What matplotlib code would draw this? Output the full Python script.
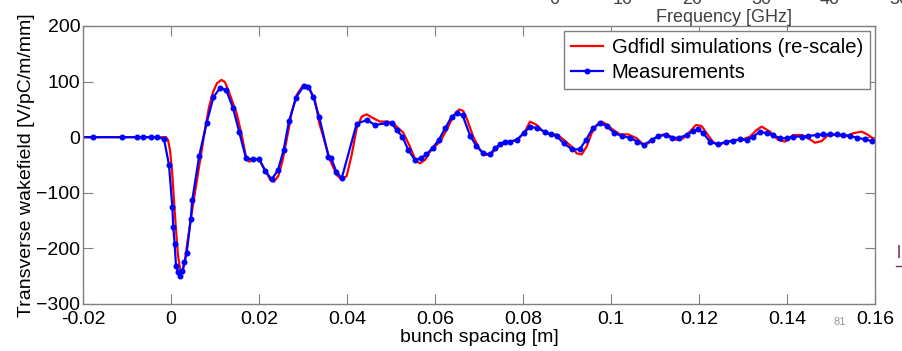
import matplotlib.pyplot as plt
from matplotlib.lines import Line2D

plt.rcParams['font.family'] = ['Liberation Sans', 'DejaVu Sans']

# measured wakefield (bunch spacing [m], V/pC/m/mm)
meas_x = [-0.022, -0.01773, -0.01114, -0.00773, -0.00636, -0.00455, -0.00318, -0.00159,
          -0.00045, 0.00030, 0.00052, 0.00084, 0.00114, 0.00159, 0.00205, 0.00261,
          0.00307, 0.00357, 0.00448, 0.00484, 0.00643, 0.00811, 0.00966, 0.01120,
          0.01257, 0.01409, 0.01552, 0.01705, 0.01864, 0.02007, 0.02136, 0.02289,
          0.02432, 0.02561, 0.02682, 0.02841, 0.03016, 0.03120, 0.03234, 0.03370,
          0.03580, 0.03636, 0.03757, 0.03880, 0.04220, 0.04455, 0.04636, 0.04886,
          0.05016, 0.05136, 0.05261, 0.05393, 0.05545, 0.05682, 0.05807, 0.05948,
          0.06086, 0.06239, 0.06380, 0.06500, 0.06630, 0.06802, 0.06943, 0.07098,
          0.07250, 0.07364, 0.07477, 0.07591, 0.07705, 0.07857, 0.08023, 0.08170,
          0.08325, 0.08500, 0.08636, 0.08766, 0.08925, 0.09118, 0.09289, 0.09432,
          0.09584, 0.09761, 0.09902, 0.10068, 0.10243, 0.10432, 0.10598, 0.10750,
          0.10925, 0.11075, 0.11250, 0.11380, 0.11552, 0.11720, 0.11870, 0.11984,
          0.12098, 0.12250, 0.12439, 0.12614, 0.12766, 0.12932, 0.13084, 0.13234,
          0.13386, 0.13539, 0.13675, 0.13841, 0.13993, 0.14143, 0.14334, 0.14484,
          0.14675, 0.14825, 0.14977, 0.15130, 0.15280, 0.15432, 0.15598, 0.15773,
          0.15925, 0.16100]
meas_y = [0, 0, 0, 0, 0, 0, 0, -3,
          -50, -125, -162, -192, -231, -242, -249, -240,
          -225, -208, -148, -113, -33, 26, 72, 89,
          84, 53, 9, -38, -40, -40, -60, -76,
          -59, -23, 29, 71, 92, 91, 72, 36,
          -35, -37, -62, -74, 24, 31, 22, 25,
          25, 12, 1, -23, -41, -38, -31, -19,
          -5, 17, 37, 43, 39, 2, -16, -29,
          -31, -20, -13, -8, -8, -5, 8, 19,
          16, 10, 5, 2, -11, -22, -22, -5,
          16, 25, 20, 8, 2, -1, -8, -14,
          -5, 2, 4, -1, -1, 4, 11, 14,
          7, -8, -13, -8, -7, -4, -5, 1,
          10, 7, 4, -2, -2, 1, 1, 2,
          4, 5, 5, 5, 4, 2, -1, -4,
          -7, -8]

# Gdfidl simulation (re-scaled)
sim_x = [-0.02, -0.00114, -0.00068, -0.00023, 0.00023, 0.00068, 0.00114, 0.00159,
         0.00205, 0.00239, 0.00273, 0.00318, 0.00364, 0.00432, 0.00500, 0.00591,
         0.00682, 0.00773, 0.00864, 0.00955, 0.01045, 0.01148, 0.01227, 0.01318,
         0.01493, 0.01607, 0.01720, 0.01780, 0.01870, 0.02007, 0.02159, 0.02250,
         0.02341, 0.02439, 0.02539, 0.02643, 0.02743, 0.02857, 0.03007, 0.03120,
         0.03273, 0.03370, 0.03461, 0.03614, 0.03766, 0.03880, 0.03993, 0.04107,
         0.04220, 0.04334, 0.04448, 0.04598, 0.04750, 0.04939, 0.05091, 0.05280,
         0.05432, 0.05568, 0.05659, 0.05773, 0.05886, 0.06114, 0.06266, 0.06416,
         0.06552, 0.06643, 0.06734, 0.06870, 0.07023, 0.07159, 0.07289, 0.07477,
         0.07705, 0.07893, 0.08045, 0.08159, 0.08311, 0.08461, 0.08614, 0.08766,
         0.08916, 0.09107, 0.09220, 0.09334, 0.09448, 0.09561, 0.09675, 0.09789,
         0.09902, 0.10052, 0.10205, 0.10393, 0.10584, 0.10734, 0.10848, 0.11000,
         0.11189, 0.11341, 0.11493, 0.11643, 0.11795, 0.11932, 0.12061, 0.12175,
         0.12311, 0.12439, 0.12591, 0.12780, 0.12970, 0.13159, 0.13311, 0.13425,
         0.13614, 0.13802, 0.13955, 0.14143, 0.14334, 0.14484, 0.14636, 0.14789,
         0.14939, 0.15130, 0.15318, 0.15507, 0.15698, 0.15848, 0.16000]
sim_y = [0, 0, -5, -23, -59, -113, -167, -212,
         -236, -243, -239, -221, -194, -158, -122, -77,
         -32, 13, 54, 81, 97, 103, 99, 81,
         43, 4, -41, -44, -40, -40, -62, -76,
         -80, -70, -41, 1, 43, 76, 94, 92,
         67, 25, 1, -41, -68, -76, -70, -32,
         16, 37, 41, 34, 28, 28, 22, 8,
         -17, -43, -47, -41, -26, -8, 13, 38,
         50, 47, 31, 1, -23, -32, -29, -14,
         -8, -4, 10, 28, 22, 10, 5, 5,
         -4, -17, -29, -31, -17, 7, 22, 28,
         23, 13, 5, 5, -2, -13, -11, -2,
         5, 2, -5, -2, 10, 22, 20, 7,
         -8, -14, -10, -5, -5, 1, 13, 19,
         10, -5, -8, 4, 4, -2, -10, -7,
         4, 4, 1, 7, 10, 4, -5]

x_ticks = [-0.02, 0, 0.02, 0.04, 0.06, 0.08, 0.1, 0.12, 0.14, 0.16]
x_tick_labels = ['-0.02', '0', '0.02', '0.04', '0.06', '0.08', '0.1', '0.12', '0.14', '0.16']
y_ticks = [-300, -200, -100, 0, 100, 200]
freq_labels = ['0', '10', '20', '30', '40', '50']

fig = plt.figure(figsize=(9.02, 3.51), dpi=100)
ax = fig.add_axes([0.092, 0.134, 0.878, 0.792])

ax.plot(sim_x, sim_y, color='#ff0000', lw=1.6, label='Gdfidl simulations (re-scale)')
ax.plot(meas_x, meas_y, color='#0000ff', lw=1.6, marker='o', ms=3.3,
        label='Measurements')

ax.set_xlim(-0.02, 0.16)
ax.set_ylim(-300, 200)
ax.set_xticks(x_ticks)
ax.set_xticklabels(x_tick_labels)
ax.set_yticks(y_ticks)
ax.tick_params(direction='in', length=7, color='#808080', labelsize=14,
               top=True, right=True)
ax.tick_params(axis='x', pad=5)
ax.tick_params(axis='y', pad=2)
for s in ax.spines.values():
    s.set_color('#808080')
    s.set_linewidth(1)

ax.set_xlabel('bunch spacing [m]', fontsize=14, labelpad=1)
ax.set_ylabel('Transverse wakefield [V/pC/m/mm]', fontsize=14, labelpad=1)

leg = ax.legend(loc='upper right', fontsize=14.6, fancybox=False, framealpha=1,
                edgecolor='#808080', borderaxespad=0.25, handlelength=1.6,
                handletextpad=0.4, borderpad=0.35, labelspacing=0.3)
leg.get_frame().set_linewidth(1)

# leftovers of the neighbouring chart cropped at the top
fig.text(724 / 902, 1 - 17 / 351, 'Frequency [GHz]', ha='center', va='center',
         fontsize=13, color='#404040')
for i, lab in enumerate(freq_labels):
    fig.text((554 + 69 * i) / 902, 1 - 4 / 351, lab, ha='center', va='baseline',
             fontsize=13, color='#404040')

fig.text(840 / 902, 1 - 322 / 351, '81', ha='center', va='center', fontsize=8,
         color='#999999')
fig.text(897 / 902, 1 - 253 / 351, 'l', ha='left', va='center', fontsize=13,
         color='#7b2c6e')
fig.lines.append(Line2D([896 / 902, 902 / 902], [1 - 266 / 351, 1 - 266 / 351],
                        transform=fig.transFigure, color='#7b2c6e', lw=1))

fig.savefig('out.png', dpi=100)
